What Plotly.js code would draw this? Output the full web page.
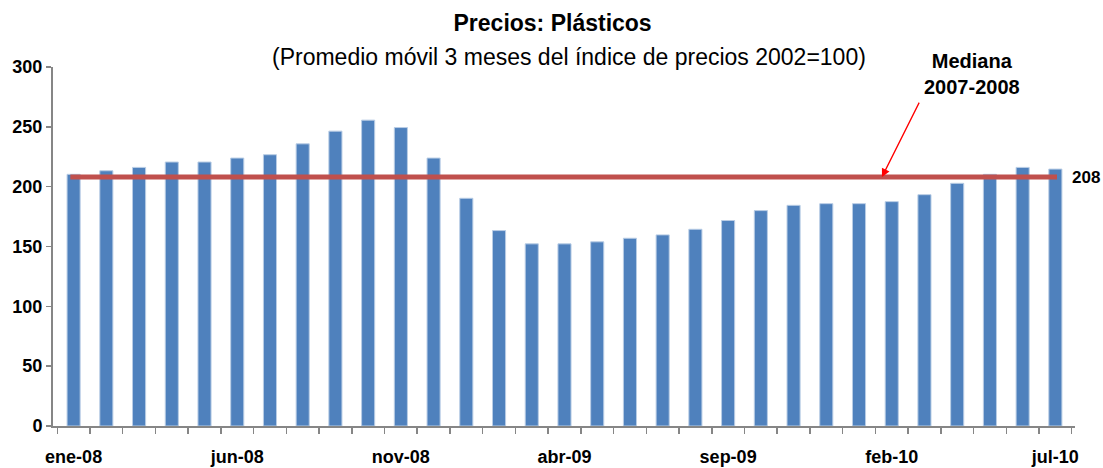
<!DOCTYPE html>
<html>
<head>
<meta charset="utf-8">
<script src="https://cdn.plot.ly/plotly-3.0.1.min.js"></script>
<style>
  html, body { margin: 0; padding: 0; background: #ffffff; }
  #chart { width: 1103px; height: 468px; }
</style>
</head>
<body>
<div id="chart"></div>
<script>
// Months ene-08 .. jul-10
const months = ["ene-08","feb-08","mar-08","abr-08","may-08","jun-08","jul-08","ago-08","sep-08","oct-08","nov-08","dic-08",
                "ene-09","feb-09","mar-09","abr-09","may-09","jun-09","jul-09","ago-09","sep-09","oct-09","nov-09","dic-09",
                "ene-10","feb-10","mar-10","abr-10","may-10","jun-10","jul-10"];
// 3-month moving average of price index (2002=100)
const priceIndex = [210.3, 213.3, 216.1, 220.6, 220.6, 223.9, 226.7, 235.8, 246.4, 255.6, 249.4, 223.9,
                    190.3, 163.3, 152.2, 152.2, 153.9, 156.9, 159.7, 164.4, 171.7, 180.0, 184.4, 185.8,
                    185.8, 187.5, 193.3, 202.8, 210.3, 216.1, 214.7];
const median0708 = 208;
const labelEvery = 5;
const yTicks = [0, 50, 100, 150, 200, 250, 300];

const idx = months.map((_, i) => i);
const labelIdx = idx.filter(i => i % labelEvery === 0);
const labelText = labelIdx.map(i => "<b>" + months[i] + "</b>");

const FONT = "Liberation Sans, Arial, sans-serif";
const AXIS_GRAY = "#868686";

const traces = [
  {
    type: "bar",
    x: idx,
    y: priceIndex,
    marker: { color: "#4F81BD", line: { color: "#B9CDE5", width: 1 } },
    hoverinfo: "skip",
    showlegend: false
  },
  {
    type: "scatter",
    mode: "lines",
    x: [idx[0] - 0.1, idx[idx.length - 1] + 0.05],
    y: [median0708, median0708],
    line: { color: "#C0504D", width: 5 },
    hoverinfo: "skip",
    showlegend: false
  }
];

const layout = {
  width: 1103,
  height: 468,
  margin: { l: 53, r: 28, t: 67, b: 42 },
  paper_bgcolor: "#ffffff",
  plot_bgcolor: "#ffffff",
  font: { family: FONT, color: "#000000" },
  bargap: 0.6,
  title: {
    text: "<b>Precios: Plásticos</b>",
    font: { family: FONT, size: 23, color: "#000000" },
    xref: "container", yref: "container",
    x: 0.501, y: 0.951, xanchor: "center", yanchor: "middle"
  },
  xaxis: {
    range: [-0.63, 30.6],
    tickmode: "array",
    tickvals: labelIdx,
    ticktext: labelText,
    ticks: "",
    ticklabelstandoff: 13,
    tickfont: { family: FONT, size: 18, color: "#000000" },
    showline: true, linecolor: AXIS_GRAY, linewidth: 2,
    showgrid: false, zeroline: false,
    minor: { ticks: "outside", tick0: -0.5, dtick: 1, ticklen: 6, tickcolor: AXIS_GRAY, tickwidth: 1.5, showgrid: false },
    fixedrange: true
  },
  yaxis: {
    range: [0, 300],
    tickmode: "array",
    tickvals: yTicks,
    ticktext: yTicks.map(v => "<b>" + v + "</b>"),
    ticks: "outside", ticklen: 5, tickcolor: AXIS_GRAY, tickwidth: 1.5,
    tickfont: { family: FONT, size: 18, color: "#000000" },
    showline: true, linecolor: AXIS_GRAY, linewidth: 2,
    showgrid: false, zeroline: false,
    fixedrange: true
  },
  annotations: [
    {
      text: "(Promedio móvil 3 meses del índice de precios 2002=100)",
      xref: "paper", yref: "paper",
      x: 0.505, y: 1.028, xanchor: "center", yanchor: "middle",
      showarrow: false,
      font: { family: FONT, size: 23, color: "#000000" }
    },
    {
      text: "<b>Mediana<br>2007-2008</b>",
      xref: "x", yref: "y",
      x: 27.46, y: 294, xanchor: "center", yanchor: "middle",
      showarrow: false,
      font: { family: FONT, size: 20, color: "#000000" }
    },
    {
      text: "",
      xref: "x", yref: "y",
      x: 24.7, y: median0708,
      ax: 38, ay: -76,
      showarrow: true, arrowhead: 2, arrowsize: 1.3, arrowwidth: 1.3, arrowcolor: "#FF0000"
    },
    {
      text: "<b>" + median0708 + "</b>",
      xref: "x", yref: "y",
      x: idx[idx.length - 1] + 0.5, y: median0708,
      xanchor: "left", yanchor: "middle", xshift: -2,
      showarrow: false,
      font: { family: FONT, size: 17, color: "#000000" }
    }
  ]
};

Plotly.newPlot("chart", traces, layout, { displayModeBar: false, staticPlot: true });
</script>
</body>
</html>
